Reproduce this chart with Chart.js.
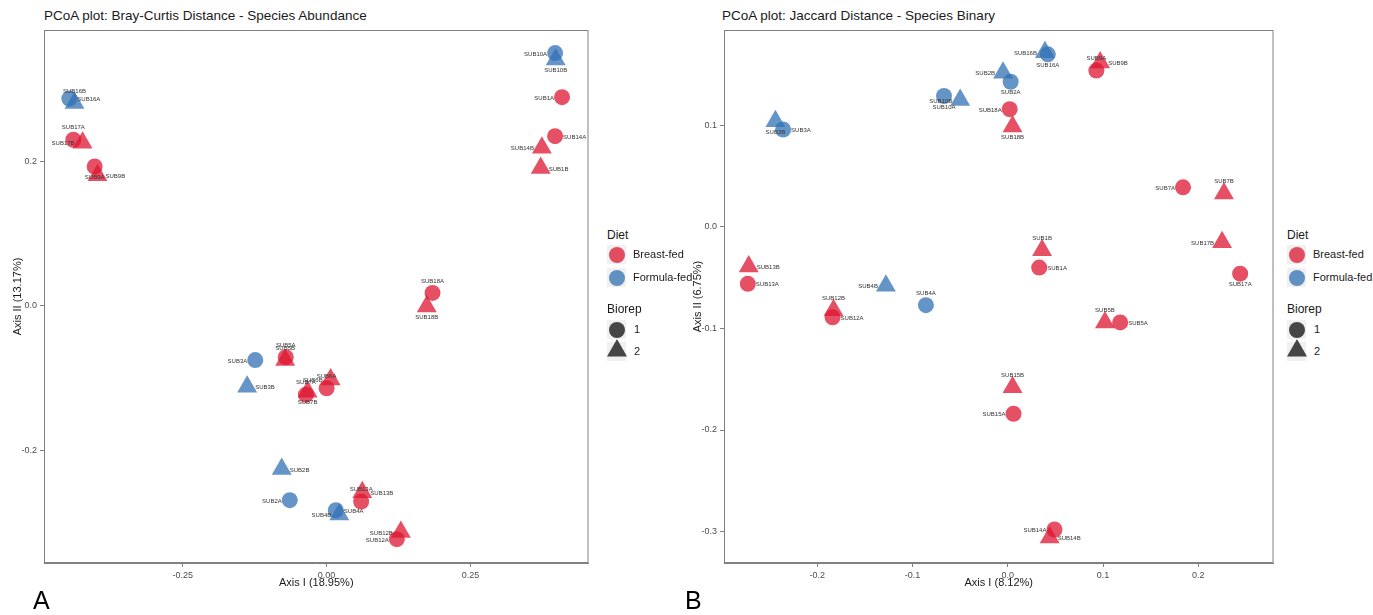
<!DOCTYPE html>
<html>
<head>
<meta charset="utf-8">
<script src="https://cdn.jsdelivr.net/npm/chart.js@4"></script>
<style>
  body { margin: 0; background: #fff; font-family: 'Liberation Sans', Arial, sans-serif; }
  #page { position: relative; width: 1373px; height: 615px; overflow: hidden; }
  canvas { position: absolute; top: 0; }
  .title { position: absolute; top: 8px; font-size: 13.5px; color: #1a1a1a; white-space: nowrap; }
  .panel { position: absolute; font-family: 'Liberation Sans Narrow', 'Liberation Sans', sans-serif; font-size: 25px; color: #000; }
  .leg { position: absolute; font-size: 11px; color: #1a1a1a; white-space: nowrap; }
  .key { position: absolute; width: 19px; height: 19px; background: #f0f0f0; }
</style>
</head>
<body>
<div id="page">
  <div class="title" style="left:44px">PCoA plot: Bray-Curtis Distance - Species Abundance</div>
  <div class="title" style="left:722px">PCoA plot: Jaccard Distance - Species Binary</div>
  <canvas id="chartA" width="600" height="600" style="left:0px"></canvas>
  <canvas id="chartB" width="605" height="600" style="left:680px"></canvas>
  <div class="panel" style="left:33px;top:586px">A</div>
  <div class="panel" style="left:685px;top:586px">B</div>
</div>
<script>
const formulaFed = ['SUB2', 'SUB3', 'SUB4', 'SUB10', 'SUB16'];

// Bray-Curtis (panel A)
const braySamples = ['SUB1A','SUB1B','SUB2A','SUB2B','SUB3A','SUB3B','SUB4A','SUB4B','SUB5A','SUB5B',
  'SUB6A','SUB6B','SUB7A','SUB7B','SUB9A','SUB9B','SUB10A','SUB10B','SUB12A','SUB12B',
  'SUB13A','SUB13B','SUB14A','SUB14B','SUB16A','SUB16B','SUB17A','SUB17B','SUB18A','SUB18B'];
const brayAxis1 = [0.409, 0.372, -0.064, -0.078, -0.124, -0.138, 0.016, 0.022, -0.071, -0.072,
  0.000, 0.007, -0.036, -0.033, -0.403, -0.398, 0.397, 0.398, 0.122, 0.129,
  0.060, 0.062, 0.397, 0.374, -0.447, -0.438, -0.440, -0.424, 0.184, 0.174];
const brayAxis2 = [0.289, 0.191, -0.269, -0.226, -0.075, -0.112, -0.283, -0.289, -0.071, -0.075,
  -0.114, -0.102, -0.123, -0.119, 0.193, 0.181, 0.350, 0.341, -0.323, -0.313,
  -0.271, -0.258, 0.235, 0.219, 0.287, 0.281, 0.230, 0.226, 0.018, -0.001];
const brayXTicks = [-0.25, 0, 0.25];
const brayXTickLabels = ['-0.25', '0.00', '0.25'];
const brayYTicks = [-0.2, 0, 0.2];
const brayYTickLabels = ['-0.2', '0.0', '0.2'];

// Jaccard (panel B)
const jacSamples = ['SUB1A','SUB1B','SUB2A','SUB2B','SUB3A','SUB3B','SUB4A','SUB4B','SUB5A','SUB5B',
  'SUB7A','SUB7B','SUB9A','SUB9B','SUB10A','SUB10B','SUB12A','SUB12B','SUB13A','SUB13B',
  'SUB14A','SUB14B','SUB15A','SUB15B','SUB16A','SUB16B','SUB17A','SUB17B','SUB18A','SUB18B'];
const jacAxis1 = [0.033, 0.036, 0.003, -0.005, -0.236, -0.244, -0.086, -0.128, 0.118, 0.102,
  0.184, 0.227, 0.093, 0.097, -0.067, -0.050, -0.184, -0.183, -0.273, -0.272,
  0.049, 0.044, 0.006, 0.005, 0.042, 0.039, 0.244, 0.225, 0.002, 0.005];
const jacAxis2 = [-0.040, -0.023, 0.143, 0.152, 0.096, 0.104, -0.077, -0.058, -0.094, -0.094,
  0.039, 0.033, 0.154, 0.162, 0.129, 0.125, -0.089, -0.082, -0.056, -0.039,
  -0.298, -0.306, -0.184, -0.158, 0.170, 0.172, -0.046, -0.015, 0.116, 0.099];
const jacXTicks = [-0.2, -0.1, 0, 0.1, 0.2];
const jacXTickLabels = ['-0.2', '-0.1', '0.0', '0.1', '0.2'];
const jacYTicks = [-0.3, -0.2, -0.1, 0, 0.1];
const jacYTickLabels = ['-0.3', '-0.2', '-0.1', '0.0', '0.1'];

// where each text label sits next to its point (l/r/t/b)
const braySides = {SUB1A:'l',SUB1B:'r',SUB2A:'l',SUB2B:'r',SUB3A:'l',SUB3B:'r',SUB4A:'r',SUB4B:'l',
  SUB5A:'t',SUB5B:'t',SUB6A:'t',SUB6B:'l',SUB7A:'t',SUB7B:'b',SUB9A:'b',SUB9B:'r',SUB10A:'l',SUB10B:'b',
  SUB12A:'l',SUB12B:'l',SUB13A:'t',SUB13B:'r',SUB14A:'r',SUB14B:'l',SUB16A:'r',SUB16B:'t',
  SUB17A:'t',SUB17B:'l',SUB18A:'t',SUB18B:'b'};
const jacSides = {SUB1A:'r',SUB1B:'t',SUB2A:'b',SUB2B:'l',SUB3A:'r',SUB3B:'b',SUB4A:'t',SUB4B:'l',
  SUB5A:'r',SUB5B:'t',SUB7A:'l',SUB7B:'t',SUB9A:'t',SUB9B:'r',SUB10A:'b',SUB10B:'l',
  SUB12A:'r',SUB12B:'t',SUB13A:'r',SUB13B:'r',SUB14A:'l',SUB14B:'r',SUB15A:'l',SUB15B:'t',
  SUB16A:'b',SUB16B:'l',SUB17A:'b',SUB17B:'l',SUB18A:'l',SUB18B:'b'};

const RED = 'rgba(222, 22, 50, 0.75)';
const BLUE = 'rgba(50, 112, 180, 0.75)';

function buildDatasets(samples, ax1, ax2, sides) {
  const groups = [
    { diet: 'Breast-fed', rep: 'A', color: RED, style: 'circle' },
    { diet: 'Formula-fed', rep: 'A', color: BLUE, style: 'circle' },
    { diet: 'Breast-fed', rep: 'B', color: RED, style: 'triangle' },
    { diet: 'Formula-fed', rep: 'B', color: BLUE, style: 'triangle' }
  ];
  return groups.map(g => {
    const idx = [];
    samples.forEach((s, i) => {
      const isFormula = formulaFed.includes(s.slice(0, -1));
      if (isFormula === (g.diet === 'Formula-fed') && s.endsWith(g.rep)) idx.push(i);
    });
    return {
      label: g.diet + ' ' + g.rep,
      data: idx.map(i => ({ x: ax1[i], y: ax2[i] })),
      names: idx.map(i => samples[i]),
      sides: idx.map(i => sides[samples[i]]),
      pointStyle: g.style,
      pointRadius: g.style === 'circle' ? 8 : 11.5,
      backgroundColor: g.color,
      borderWidth: 0,
      pointBorderWidth: 0
    };
  });
}

const labelPlugin = {
  id: 'pointLabels',
  afterDatasetsDraw(chart) {
    const ctx = chart.ctx;
    ctx.save();
    ctx.font = '6px "Liberation Sans", Arial, sans-serif';
    ctx.fillStyle = '#333';
    ctx.textBaseline = 'middle';
    chart.data.datasets.forEach((ds, di) => {
      chart.getDatasetMeta(di).data.forEach((pt, i) => {
        const side = ds.sides[i];
        let x = pt.x, y = pt.y;
        if (side === 'r') { ctx.textAlign = 'left'; x += 8; y += 1; }
        else if (side === 'l') { ctx.textAlign = 'right'; x -= 8; y += 1; }
        else if (side === 't') { ctx.textAlign = 'center'; y -= 12; }
        else { ctx.textAlign = 'center'; y += 11; }
        ctx.fillText(ds.names[i], x, y);
      });
    });
    ctx.restore();
  }
};

const framePlugin = {
  id: 'frame',
  afterDraw(chart) {
    const a = chart.chartArea;
    const ctx = chart.ctx;
    ctx.save();
    ctx.strokeStyle = '#808080';
    ctx.lineWidth = 1;
    ctx.strokeRect(a.left + 0.5, a.top + 0.5, a.right - a.left - 1, a.bottom - a.top - 1);
    ctx.restore();
  }
};

function axis(min, max, ticks, tickLabels, title, isY) {
  return {
    type: 'linear',
    min: min,
    max: max,
    afterBuildTicks: s => { s.ticks = ticks.map(v => ({ value: v })); },
    afterFit: s => { if (isY) s.width = 44; else s.height = 37; },
    ticks: {
      callback: (v, i) => tickLabels[i],
      color: '#4d4d4d',
      font: { size: 9, family: '"Liberation Sans", Arial, sans-serif' },
      padding: 3,
      maxRotation: 0
    },
    grid: { drawOnChartArea: false, drawTicks: true, tickLength: 4, color: '#808080' },
    border: { display: true, color: '#808080' },
    title: {
      display: true,
      text: title,
      color: '#1a1a1a',
      font: { size: 11, family: '"Liberation Sans", Arial, sans-serif' },
      padding: isY ? { top: 11, bottom: 0 } : { top: 0, bottom: 10 }
    }
  };
}

function makeChart(id, datasets, xs, ys) {
  return new Chart(document.getElementById(id).getContext('2d'), {
    type: 'scatter',
    data: { datasets: datasets },
    options: {
      responsive: false,
      animation: false,
      events: [],
      layout: { padding: { top: 30, right: 7, left: 0, bottom: 0 } },
      plugins: { legend: { display: false }, tooltip: { enabled: false } },
      scales: { x: xs, y: ys }
    },
    plugins: [labelPlugin, framePlugin]
  });
}

makeChart('chartA', buildDatasets(braySamples, brayAxis1, brayAxis2, braySides),
  axis(-0.491, 0.455, brayXTicks, brayXTickLabels, 'Axis I (18.95%)', false),
  axis(-0.356, 0.382, brayYTicks, brayYTickLabels, 'Axis II (13.17%)', true));

makeChart('chartB', buildDatasets(jacSamples, jacAxis1, jacAxis2, jacSides),
  axis(-0.298, 0.279, jacXTicks, jacXTickLabels, 'Axis I (8.12%)', false),
  axis(-0.331, 0.194, jacYTicks, jacYTickLabels, 'Axis II (6.75%)', true));

// legends
function addLegend(left) {
  const page = document.getElementById('page');
  const add = html => page.insertAdjacentHTML('beforeend', html);
  add(`<div class="leg" style="left:${left}px;top:228px;font-size:12px">Diet</div>`);
  const diet = [['Breast-fed', RED, 255], ['Formula-fed', BLUE, 278]];
  diet.forEach(([name, col, y]) => {
    add(`<div class="key" style="left:${left}px;top:${y - 10}px"></div>`);
    add(`<svg style="position:absolute;left:${left}px;top:${y - 10}px" width="20" height="20"><circle cx="10" cy="10" r="8" fill="${col}"/></svg>`);
    add(`<div class="leg" style="left:${left + 26}px;top:${y - 7}px">${name}</div>`);
  });
  add(`<div class="leg" style="left:${left}px;top:302px;font-size:12px">Biorep</div>`);
  const dark = 'rgba(20,20,20,0.78)';
  add(`<div class="key" style="left:${left}px;top:320px"></div>`);
  add(`<svg style="position:absolute;left:${left}px;top:320px" width="20" height="20"><circle cx="10" cy="10" r="8" fill="${dark}"/></svg>`);
  add(`<div class="leg" style="left:${left + 27}px;top:323px">1</div>`);
  add(`<div class="key" style="left:${left}px;top:342px"></div>`);
  add(`<svg style="position:absolute;left:${left - 1}px;top:338px" width="22" height="24"><polygon points="11,1 21,18.5 1,18.5" fill="${dark}"/></svg>`);
  add(`<div class="leg" style="left:${left + 27}px;top:345px">2</div>`);
}
addLegend(607);
addLegend(1287);
</script>
</body>
</html>
